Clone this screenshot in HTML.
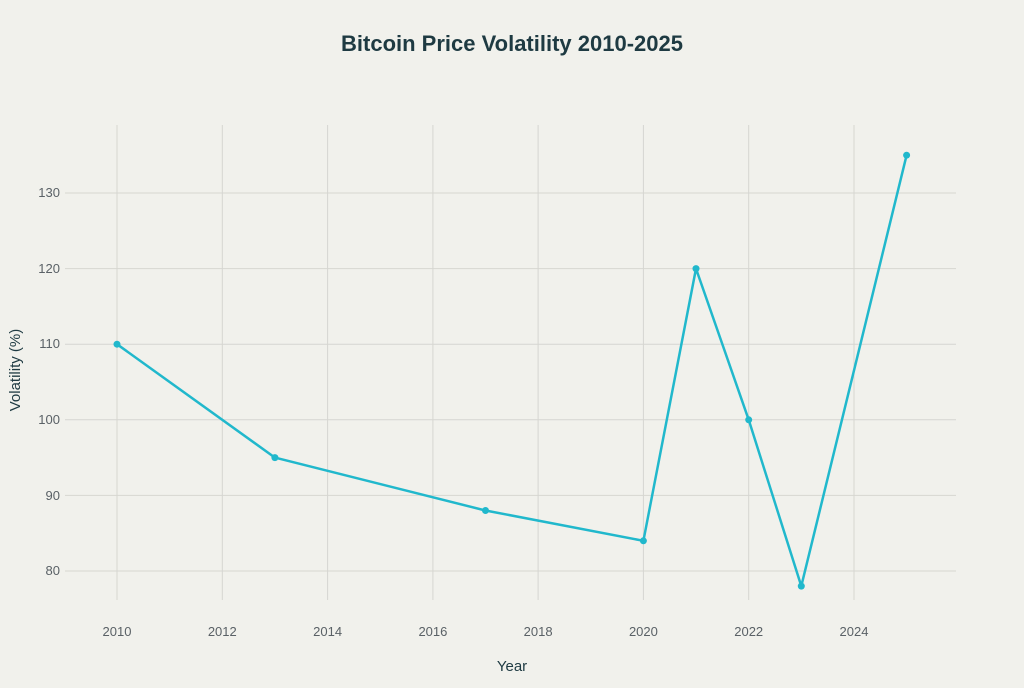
<!DOCTYPE html>
<html><head><style>body{margin:0;background:#f1f1ec;}</style></head><body>
<svg width="1024" height="683" xmlns="http://www.w3.org/2000/svg" font-family="Liberation Sans, sans-serif">
<rect width="1024" height="683" fill="#f1f1ec"/>
<text x="512" y="51" text-anchor="middle" font-size="22" font-weight="bold" fill="#1e3a42">Bitcoin Price Volatility 2010-2025</text>
<g stroke="#d6d6d1" stroke-width="1">
<line x1="117" y1="125" x2="117" y2="600"/><line x1="222.3" y1="125" x2="222.3" y2="600"/>
<line x1="327.6" y1="125" x2="327.6" y2="600"/><line x1="432.9" y1="125" x2="432.9" y2="600"/>
<line x1="538.1" y1="125" x2="538.1" y2="600"/><line x1="643.4" y1="125" x2="643.4" y2="600"/>
<line x1="748.7" y1="125" x2="748.7" y2="600"/><line x1="854" y1="125" x2="854" y2="600"/>
<line x1="65" y1="193" x2="956" y2="193"/><line x1="65" y1="268.6" x2="956" y2="268.6"/>
<line x1="65" y1="344.2" x2="956" y2="344.2"/><line x1="65" y1="419.8" x2="956" y2="419.8"/>
<line x1="65" y1="495.4" x2="956" y2="495.4"/><line x1="65" y1="571" x2="956" y2="571"/>
</g>
<g font-size="13" fill="#5a6166" text-anchor="end">
<text x="60" y="197">130</text><text x="60" y="273">120</text><text x="60" y="348">110</text>
<text x="60" y="424">100</text><text x="60" y="500">90</text><text x="60" y="575">80</text>
</g>
<g font-size="13" fill="#5a6166" text-anchor="middle">
<text x="117" y="636">2010</text><text x="222.3" y="636">2012</text><text x="327.6" y="636">2014</text>
<text x="432.9" y="636">2016</text><text x="538.1" y="636">2018</text><text x="643.4" y="636">2020</text>
<text x="748.7" y="636">2022</text><text x="854" y="636">2024</text>
</g>
<text x="512" y="671" text-anchor="middle" font-size="15" fill="#1e3a42">Year</text>
<text transform="translate(20,370) rotate(-90)" text-anchor="middle" font-size="15" fill="#1e3a42">Volatility (%)</text>
<polyline fill="none" stroke="#21b8cc" stroke-width="2.5" stroke-linejoin="round" points="117,344.2 274.9,457.6 485.5,510.5 643.4,540.8 696,268.6 748.7,419.8 801.3,586.1 906.6,155.2"/>
<g fill="#21b8cc">
<circle cx="117" cy="344.2" r="3.5"/><circle cx="274.9" cy="457.6" r="3.5"/><circle cx="485.5" cy="510.5" r="3.5"/>
<circle cx="643.4" cy="540.8" r="3.5"/><circle cx="696" cy="268.6" r="3.5"/><circle cx="748.7" cy="419.8" r="3.5"/>
<circle cx="801.3" cy="586.1" r="3.5"/><circle cx="906.6" cy="155.2" r="3.5"/>
</g>
</svg>
</body></html>
